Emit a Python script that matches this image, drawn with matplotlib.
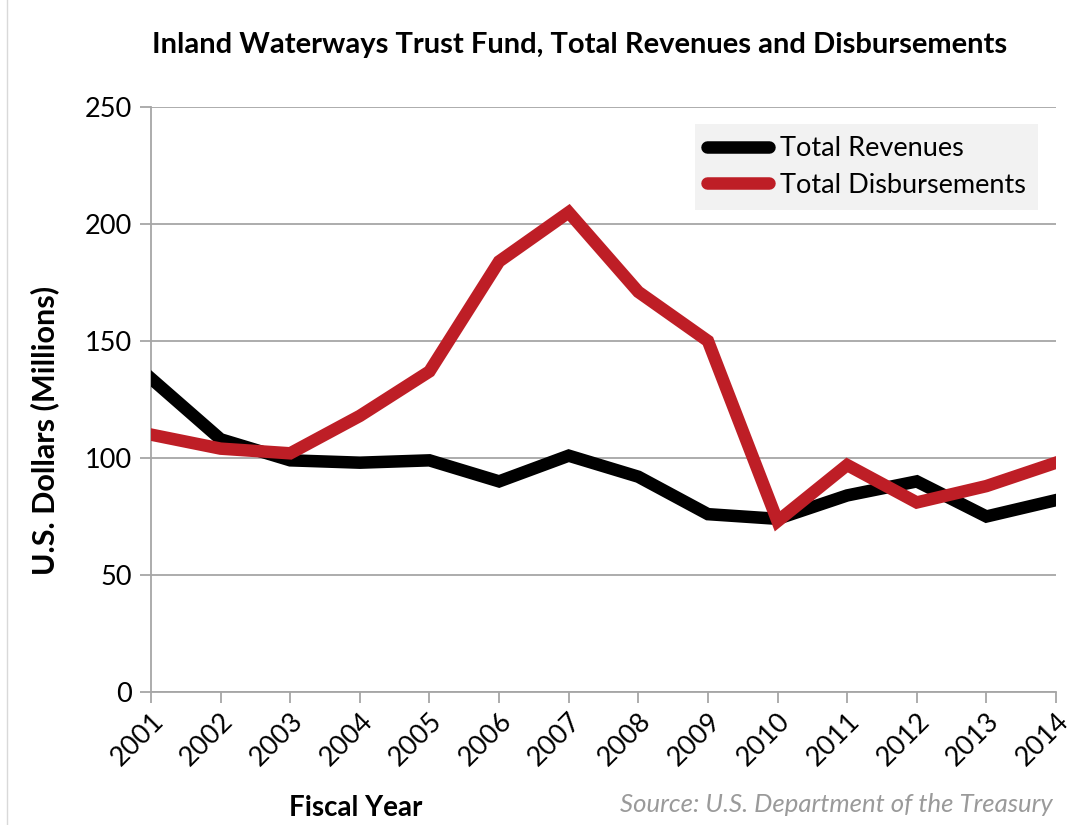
import matplotlib
matplotlib.use("Agg")
import matplotlib.pyplot as plt
from matplotlib.lines import Line2D

plt.rcParams['font.family'] = ['Lato', 'DejaVu Sans']

years = [2001, 2002, 2003, 2004, 2005, 2006, 2007, 2008, 2009, 2010, 2011, 2012, 2013, 2014]
revenues = [134, 108, 99, 98, 99, 90, 101, 92, 76, 74, 84, 90, 75, 82]
disbursements = [110, 104, 102, 118, 137, 184, 205, 171, 150, 73, 97, 81, 88, 98]
y_ticks = [0, 50, 100, 150, 200, 250]

fig = plt.figure(figsize=(10.81, 8.25), dpi=100)
ax = fig.add_axes([151/1081, 1-692/825, (1056-151)/1081, (692-107)/825])

grid_c = '#A6A6A6'
ax.plot(years, revenues, color='black', lw=9, solid_joinstyle='miter', label='Total Revenues', zorder=3)
ax.plot(years, disbursements, color='#BE1E26', lw=9, solid_joinstyle='miter', label='Total Disbursements', zorder=4)

ax.set_xlim(years[0], years[-1])
ax.set_ylim(0, 250)
ax.set_yticks(y_ticks)
ax.set_xticks(years)
ax.set_xticklabels([str(y) for y in years], rotation=45, ha='right', rotation_mode='anchor', fontsize=19.5)
ax.tick_params(axis='y', labelsize=19.5, length=8, color=grid_c, width=1.3, pad=6)
ax.tick_params(axis='x', length=8, color=grid_c, width=1.3, pad=4)
ax.yaxis.grid(True, color=grid_c, lw=1.3)
ax.set_axisbelow(True)
for s in ['top', 'right']:
    ax.spines[s].set_visible(False)
for s in ['left', 'bottom']:
    ax.spines[s].set_color(grid_c)
    ax.spines[s].set_linewidth(1.3)

fig.text(45/1081, 1-430/825, 'U.S. Dollars (Millions)', ha='center', va='center', rotation=90,
         fontsize=22, fontweight='bold')

leg = ax.legend(loc='upper right', bbox_to_anchor=((1038-151)/905, (692-124)/585),
                borderaxespad=0, fontsize=19.5, frameon=True, fancybox=False, handlelength=2.3,
                handletextpad=0.4, borderpad=0.45, labelspacing=0.42)
leg.get_frame().set_facecolor('#F2F2F2')
leg.get_frame().set_edgecolor('none')
leg.get_frame().set_alpha(1)
for h in leg.get_lines():
    h.set_solid_capstyle('round')

fig.text(580/1081, 1-45/825, 'Inland Waterways Trust Fund, Total Revenues and Disbursements',
         ha='center', va='center', fontsize=21, fontweight='bold')
fig.text(356/1081, 1-808/825, 'Fiscal Year', ha='center', va='center', fontsize=20, fontweight='bold')
fig.text(1053/1081, 1-805/825, 'Source: U.S. Department of the Treasury', ha='right', va='center',
         fontsize=18.5, style='italic', color='#9A9A9A')

fig.add_artist(Line2D([7/1081, 7/1081], [0, 1], color='#D9D9D9', lw=1, transform=fig.transFigure))

fig.savefig('out.png', dpi=100)
